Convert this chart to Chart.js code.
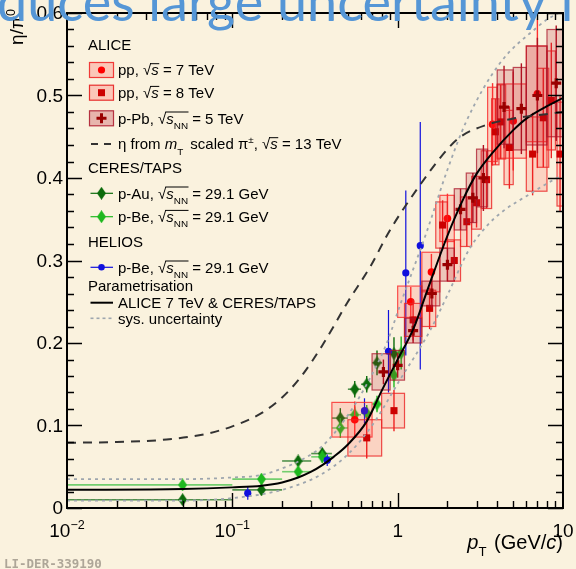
<!DOCTYPE html>
<html>
<head>
<meta charset="utf-8">
<script src="https://cdn.jsdelivr.net/npm/chart.js@4.4.1/dist/chart.umd.min.js"></script>
<style>
  html, body { margin: 0; padding: 0; background: #faf2de; }
  #wrap { position: relative; width: 576px; height: 569px; overflow: hidden; }
  canvas { display: block; }
</style>
</head>
<body>
<div id="wrap"><canvas id="c" width="576" height="569"></canvas></div>
<script>
// ---- axis ranges and tick labels ----
const X_MIN = 0.01, X_MAX = 10, Y_MIN = 0, Y_MAX = 0.6;
const yTickValues = [0, 0.1, 0.2, 0.3, 0.4, 0.5, 0.6];
const yTickLabels = ['0', '0.1', '0.2', '0.3', '0.4', '0.5', '0.6'];
const xTickValues = [0.01, 0.1, 1, 10];
const xTickBase = ['10', '10', '1', '10'];
const xTickExp = ['\u22122', '\u22121', '', ''];

// ---- ALICE pp, sqrt(s) = 7 TeV ----
const pp7X    = [0.55, 1.2, 1.6, 2.0, 3.75, 5.0, 7.0];
const pp7Y    = [0.107, 0.250, 0.286, 0.351, 0.465, 0.469, 0.502];
const pp7Stat = [0.022, 0.018, 0.022, 0.030, 0.050, 0.060, 0.090];
const pp7Sys  = [0.021, 0.019, 0.024, 0.028, 0.045, 0.045, 0.058];
const pp7Lo   = [0.4, 1.0, 1.4, 1.8, 3.5, 4.0, 6.0];
const pp7Hi   = [0.7, 1.4, 1.8, 2.2, 4.0, 6.0, 8.0];

// ---- ALICE pp, sqrt(s) = 8 TeV ----
const pp8X    = [0.65, 0.95, 1.24, 1.56, 1.87, 2.2, 2.62, 3.0, 3.45, 3.9, 4.2, 4.74, 6.55, 7.6, 8.5, 9.6];
const pp8Y    = [0.085, 0.118, 0.228, 0.242, 0.343, 0.300, 0.347, 0.370, 0.398, 0.456, 0.468, 0.437, 0.429, 0.473, 0.494, 0.429];
const pp8Stat = [0.025, 0.025, 0.025, 0.025, 0.030, 0.025, 0.030, 0.030, 0.035, 0.040, 0.045, 0.050, 0.050, 0.060, 0.070, 0.070];
const pp8Sys  = [0.022, 0.021, 0.020, 0.022, 0.028, 0.025, 0.030, 0.032, 0.035, 0.040, 0.045, 0.045, 0.045, 0.060, 0.060, 0.063];
const pp8Lo   = [0.5, 0.8, 1.1, 1.4, 1.7, 2.0, 2.4, 2.8, 3.2, 3.7, 4.0, 4.4, 6.0, 7.0, 8.0, 9.2];
const pp8Hi   = [0.8, 1.1, 1.4, 1.7, 2.0, 2.4, 2.8, 3.2, 3.7, 4.1, 4.5, 5.0, 8.0, 8.2, 9.0, 10.0];

// ---- ALICE p-Pb, sqrt(s_NN) = 5 TeV ----
const pPbX    = [0.82, 1.0, 1.24, 1.61, 2.0, 2.4, 2.85, 3.3, 4.4, 5.6, 7.0, 9.1];
const pPbY    = [0.165, 0.173, 0.215, 0.260, 0.295, 0.362, 0.376, 0.400, 0.486, 0.484, 0.500, 0.515];
const pPbStat = [0.015, 0.015, 0.015, 0.018, 0.020, 0.025, 0.030, 0.040, 0.050, 0.055, 0.070, 0.070];
const pPbSys  = [0.022, 0.018, 0.015, 0.015, 0.020, 0.025, 0.030, 0.035, 0.045, 0.050, 0.060, 0.065];
const pPbLo   = [0.7, 0.9, 1.1, 1.4, 1.8, 2.2, 2.6, 3.0, 4.0, 5.0, 6.0, 8.0];
const pPbHi   = [0.9, 1.1, 1.4, 1.8, 2.2, 2.6, 3.0, 3.5, 5.0, 6.0, 8.0, 10.0];

// ---- CERES/TAPS p-Au and p-Be, sqrt(s_NN) = 29.1 GeV ----
const pAuX   = [0.05, 0.15, 0.25, 0.35, 0.45, 0.55, 0.65, 0.75, 0.95];
const pAuY   = [0.010, 0.022, 0.057, 0.066, 0.109, 0.144, 0.150, 0.176, 0.187];
const pAuErr = [0.006, 0.006, 0.006, 0.007, 0.012, 0.010, 0.010, 0.015, 0.020];
const pAuLo  = [0.01, 0.1, 0.2, 0.3, 0.4, 0.5, 0.6, 0.7, 0.9];
const pAuHi  = [0.1, 0.2, 0.3, 0.4, 0.5, 0.6, 0.7, 0.8, 1.0];

const pBeX   = [0.05, 0.15, 0.25, 0.35, 0.45, 0.55, 0.65, 0.75, 0.95, 1.05];
const pBeY   = [0.028, 0.035, 0.044, 0.062, 0.097, 0.113, 0.115, 0.126, 0.161, 0.188];
const pBeErr = [0.006, 0.006, 0.006, 0.007, 0.012, 0.010, 0.010, 0.010, 0.015, 0.020];
const pBeLo  = [0.01, 0.1, 0.2, 0.3, 0.4, 0.5, 0.6, 0.7, 0.9, 1.0];
const pBeHi  = [0.1, 0.2, 0.3, 0.4, 0.5, 0.6, 0.7, 0.8, 1.0, 1.1];

// ---- HELIOS p-Be, sqrt(s_NN) = 29.1 GeV ----
const heliosX   = [0.124, 0.375, 0.63, 0.88, 1.12, 1.37];
const heliosY   = [0.018, 0.058, 0.118, 0.190, 0.285, 0.318];
const heliosErr = [0.008, 0.007, 0.015, 0.050, 0.100, 0.150];

// ---- parametrisation (ALICE 7 TeV & CERES/TAPS) and its uncertainty band ----
const paramX = [0.01, 0.05, 0.1, 0.15, 0.2, 0.25, 0.3, 0.35, 0.41, 0.5, 0.65, 0.8, 1.0, 1.25, 1.5, 2.0, 2.5, 3.0, 3.8, 5.0, 6.0, 8.0, 10.0];
const paramY = [0.022, 0.023, 0.025, 0.027, 0.031, 0.037, 0.044, 0.052, 0.062, 0.077, 0.105, 0.142, 0.180, 0.218, 0.262, 0.330, 0.375, 0.405, 0.432, 0.458, 0.472, 0.487, 0.497];

const sysUpX = [0.01, 0.05, 0.1, 0.15, 0.2, 0.26, 0.35, 0.49, 0.65, 0.86, 1.03, 1.5, 2.0, 2.62, 4.15, 7.0, 8.0, 10.0];
const sysUpY = [0.035, 0.035, 0.037, 0.040, 0.048, 0.058, 0.075, 0.110, 0.150, 0.200, 0.245, 0.335, 0.410, 0.470, 0.539, 0.583, 0.592, 0.603];

const sysLoX = [0.01, 0.05, 0.1, 0.2, 0.34, 0.5, 0.7, 1.03, 1.57, 2.0, 2.7, 3.5, 4.35, 6.0, 9.2, 10.0];
const sysLoY = [0.009, 0.009, 0.012, 0.022, 0.040, 0.065, 0.100, 0.155, 0.215, 0.258, 0.313, 0.343, 0.360, 0.378, 0.400, 0.403];

// ---- eta from m_T-scaled charged pions, sqrt(s) = 13 TeV ----
const mtX = [0.01, 0.02, 0.04, 0.07, 0.1, 0.15, 0.2, 0.26, 0.35, 0.5, 0.68, 0.9, 1.37, 2.0, 2.4, 3.4, 5.0, 7.6, 10.0];
const mtY = [0.079, 0.080, 0.083, 0.090, 0.099, 0.115, 0.134, 0.159, 0.197, 0.250, 0.292, 0.337, 0.392, 0.435, 0.450, 0.464, 0.472, 0.477, 0.480];

// ---- helpers ----
const FONT = '"Liberation Sans", Arial, sans-serif';
const pts = (xs, ys) => xs.map((x, i) => ({ x: x, y: ys[i] }));

function diamondImage(fill) {
  const c = document.createElement('canvas');
  c.width = 9; c.height = 13;
  const g = c.getContext('2d');
  g.fillStyle = fill;
  g.beginPath();
  g.moveTo(4.5, 0); g.lineTo(9, 6.5); g.lineTo(4.5, 13); g.lineTo(0, 6.5);
  g.closePath(); g.fill();
  return c;
}
const AU_COL = '#0b6b0b', BE_COL = '#1fb81f', HEL_COL = '#1010dd';
const diamondAu = diamondImage(AU_COL);
const diamondBe = diamondImage(BE_COL);

// rich text: normal / italic / subscript / superscript runs, optional overline (square root)
function layoutRich(ctx, parts, size) {
  let w = 0;
  const out = parts.map(p => {
    const s = (p.sub || p.sup) ? size * 0.66 : size;
    const f = (p.it ? 'italic ' : '') + s + 'px ' + FONT;
    ctx.font = f;
    const pw = ctx.measureText(p.t).width;
    const o = { p: p, f: f, x: w, w: pw, dy: p.sub ? size * 0.34 : (p.sup ? -size * 0.42 : 0) };
    w += pw + (p.gap || 0);
    return o;
  });
  return { out: out, w: w };
}
function drawRich(ctx, parts, x, y, size, color, align) {
  const L = layoutRich(ctx, parts, size);
  const x0 = align === 'right' ? x - L.w : x;
  ctx.fillStyle = color; ctx.strokeStyle = color;
  ctx.textAlign = 'left'; ctx.textBaseline = 'alphabetic';
  let a = null, b = null;
  L.out.forEach(o => {
    ctx.font = o.f;
    ctx.fillText(o.p.t, x0 + o.x, y + o.dy);
    if (o.p.ov) { if (a === null) a = x0 + o.x; b = x0 + o.x + o.w; }
  });
  if (a !== null) {
    ctx.lineWidth = 1;
    ctx.beginPath();
    ctx.moveTo(a - 1, y - size * 0.78);
    ctx.lineTo(b + 0.5, y - size * 0.78);
    ctx.stroke();
  }
  return L.w;
}

// ---- error bars, systematic boxes, frame, axes text and legend ----
const decor = {
  id: 'decor',
  beforeDraw(chart) {
    const ctx = chart.ctx;
    ctx.save();
    ctx.fillStyle = '#faf2de';
    ctx.fillRect(0, 0, chart.width, chart.height);
    ctx.restore();
  },
  beforeDatasetDraw(chart, args) {
    const ds = chart.data.datasets[args.index];
    const e = ds.errors;
    if (!e) return;
    const { ctx, chartArea: a } = chart;
    const xs = chart.scales.x, ys = chart.scales.y;
    ctx.save();
    ctx.beginPath(); ctx.rect(a.left, a.top, a.right - a.left, a.bottom - a.top); ctx.clip();
    const data = ds.data;
    if (e.sys) {
      data.forEach((p, i) => {
        const x1 = xs.getPixelForValue(e.lo[i]), x2 = xs.getPixelForValue(e.hi[i]);
        const y1 = ys.getPixelForValue(p.y + e.sys[i]), y2 = ys.getPixelForValue(p.y - e.sys[i]);
        ctx.fillStyle = e.boxFill;
        ctx.fillRect(x1, y1, x2 - x1, y2 - y1);
        ctx.strokeStyle = e.boxLine; ctx.lineWidth = 1.2;
        ctx.strokeRect(x1, y1, x2 - x1, y2 - y1);
      });
    } else if (e.lo) {
      ctx.strokeStyle = e.hColor; ctx.lineWidth = 1.6;
      data.forEach((p, i) => {
        const py = ys.getPixelForValue(p.y);
        ctx.beginPath();
        ctx.moveTo(xs.getPixelForValue(e.lo[i]), py);
        ctx.lineTo(xs.getPixelForValue(e.hi[i]), py);
        ctx.stroke();
      });
    }
    ctx.strokeStyle = e.color; ctx.lineWidth = e.width || 1.4;
    data.forEach((p, i) => {
      const px = xs.getPixelForValue(p.x);
      ctx.beginPath();
      ctx.moveTo(px, ys.getPixelForValue(p.y - e.stat[i]));
      ctx.lineTo(px, ys.getPixelForValue(p.y + e.stat[i]));
      ctx.stroke();
    });
    ctx.restore();
  },
  afterDraw(chart) {
    const { ctx, chartArea: a } = chart;
    const xs = chart.scales.x, ys = chart.scales.y;
    ctx.save();

    // frame
    ctx.strokeStyle = '#000'; ctx.lineWidth = 2;
    ctx.strokeRect(a.left, a.top, a.right - a.left, a.bottom - a.top);

    // y ticks (major every 0.1, minor every 0.02) on both sides
    ctx.lineWidth = 1.4;
    for (let k = 0; k <= 30; k++) {
      const py = Math.round(ys.getPixelForValue(k * 0.02)) + 0.5;
      const len = (k % 5 === 0) ? 15 : 7;
      ctx.beginPath();
      ctx.moveTo(a.left, py); ctx.lineTo(a.left + len, py);
      ctx.moveTo(a.right, py); ctx.lineTo(a.right - len, py);
      ctx.stroke();
    }
    // x ticks (decades and 2..9 subdivisions) on top and bottom
    for (let d = 0.01; d < 5; d *= 10) {
      for (let m = 1; m <= 9; m++) {
        const v = m * d;
        if (v <= X_MIN * 1.0001 || v >= X_MAX * 0.9999) continue;
        const px = Math.round(xs.getPixelForValue(v)) + 0.5;
        const len = (m === 1) ? 15 : 7;
        ctx.beginPath();
        ctx.moveTo(px, a.bottom); ctx.lineTo(px, a.bottom - len);
        ctx.moveTo(px, a.top); ctx.lineTo(px, a.top + len);
        ctx.stroke();
      }
    }

    // y tick labels
    ctx.fillStyle = '#000';
    ctx.font = '19px ' + FONT;
    ctx.textAlign = 'right'; ctx.textBaseline = 'middle';
    yTickValues.forEach((v, i) => ctx.fillText(yTickLabels[i], a.left - 4, ys.getPixelForValue(v) + 1));

    // x tick labels with exponents
    xTickValues.forEach((v, i) => {
      const parts = [{ t: xTickBase[i] }];
      if (xTickExp[i]) parts.push({ t: xTickExp[i], sup: true });
      const L = layoutRich(ctx, parts, 19);
      drawRich(ctx, parts, xs.getPixelForValue(v) - L.w / 2, 537, 19, '#000');
    });

    // axis titles
    drawRich(ctx, [{ t: 'p', it: true }, { t: 'T', sub: true, gap: 2 }, { t: ' (GeV/' }, { t: 'c', it: true }, { t: ')' }],
      a.right, 549, 20, '#000', 'right');
    ctx.save();
    ctx.translate(23, 9);
    ctx.rotate(-Math.PI / 2);
    drawRich(ctx, [{ t: '\u03B7/\u03C0' }, { t: '0', sup: true }], 0, 0, 19, '#000', 'right');
    ctx.restore();

    // legend
    const LX = 88, TX = 118, FS = 15;
    const sqrtS = [{ t: '\u221A' }, { t: 's', it: true, ov: true }];
    const sqrtSNN = [{ t: '\u221A' }, { t: 's', it: true, ov: true }, { t: 'NN', sub: true, ov: true }];
    const head = (s, cy) => drawRich(ctx, [{ t: s }], LX, cy + 5.4, FS, '#000');
    const entry = (parts, cy) => drawRich(ctx, parts, TX, cy + 5.4, FS, '#000');
    const boxSym = (cy, fill, line) => {
      ctx.fillStyle = fill; ctx.fillRect(89.5, cy - 7.5, 24, 15);
      ctx.strokeStyle = line; ctx.lineWidth = 1.2; ctx.strokeRect(89.5, cy - 7.5, 24, 15);
    };

    head('ALICE', 45);
    boxSym(70, 'rgba(255,70,70,0.25)', 'rgba(240,40,40,0.9)');
    ctx.fillStyle = '#ff0000'; ctx.beginPath(); ctx.arc(101.5, 70, 3.6, 0, 2 * Math.PI); ctx.fill();
    entry([{ t: 'pp, ' }, ...sqrtS, { t: ' = 7 TeV' }], 70);

    boxSym(92.7, 'rgba(255,70,70,0.25)', 'rgba(230,30,30,0.9)');
    ctx.fillStyle = '#cc0000'; ctx.fillRect(98, 89.2, 7, 7);
    entry([{ t: 'pp, ' }, ...sqrtS, { t: ' = 8 TeV' }], 92.7);

    boxSym(118.3, 'rgba(190,40,60,0.3)', 'rgba(170,20,40,0.85)');
    ctx.strokeStyle = '#990000'; ctx.lineWidth = 3;
    ctx.beginPath(); ctx.moveTo(96.5, 118.3); ctx.lineTo(106.5, 118.3); ctx.moveTo(101.5, 113.3); ctx.lineTo(101.5, 123.3); ctx.stroke();
    entry([{ t: 'p-Pb, ' }, ...sqrtSNN, { t: ' = 5 TeV' }], 118.3);

    ctx.strokeStyle = '#333'; ctx.lineWidth = 1.8;
    ctx.beginPath(); ctx.moveTo(91, 144); ctx.lineTo(98, 144); ctx.moveTo(104, 144); ctx.lineTo(111, 144); ctx.stroke();
    entry([{ t: '\u03B7 from ' }, { t: 'm', it: true }, { t: 'T', sub: true, gap: 3 }, { t: ' scaled \u03C0' }, { t: '\u00B1', sup: true },
      { t: ', ' }, ...sqrtS, { t: ' = 13 TeV' }], 144);

    head('CERES/TAPS', 167.3);
    const lineSym = (cy, col, img) => {
      ctx.strokeStyle = col; ctx.lineWidth = 1.2;
      ctx.beginPath(); ctx.moveTo(90.5, cy); ctx.lineTo(113, cy); ctx.stroke();
      if (img) ctx.drawImage(img, 101.5 - img.width / 2, cy - img.height / 2);
    };
    lineSym(193.3, AU_COL, diamondAu);
    entry([{ t: 'p-Au, ' }, ...sqrtSNN, { t: ' = 29.1 GeV' }], 193.3);
    lineSym(216.7, BE_COL, diamondBe);
    entry([{ t: 'p-Be, ' }, ...sqrtSNN, { t: ' = 29.1 GeV' }], 216.7);

    head('HELIOS', 241.7);
    lineSym(267.3, HEL_COL, null);
    ctx.fillStyle = HEL_COL; ctx.beginPath(); ctx.arc(101.5, 267.3, 3.3, 0, 2 * Math.PI); ctx.fill();
    entry([{ t: 'p-Be, ' }, ...sqrtSNN, { t: ' = 29.1 GeV' }], 267.3);

    head('Parametrisation', 286);
    ctx.strokeStyle = '#000'; ctx.lineWidth = 2;
    ctx.beginPath(); ctx.moveTo(90.5, 302.7); ctx.lineTo(113, 302.7); ctx.stroke();
    entry([{ t: 'ALICE 7 TeV & CERES/TAPS' }], 302.7);
    ctx.strokeStyle = '#9ea6ae'; ctx.lineWidth = 1.6; ctx.setLineDash([3, 3]);
    ctx.beginPath(); ctx.moveTo(90.5, 318.3); ctx.lineTo(113, 318.3); ctx.stroke();
    ctx.setLineDash([]);
    entry([{ t: 'sys. uncertainty' }], 318.3);

    // preliminary figure tag
    ctx.font = 'bold 12.5px "DejaVu Sans Mono", monospace';
    ctx.fillStyle = '#aea698'; ctx.textAlign = 'left'; ctx.textBaseline = 'alphabetic';
    ctx.fillText('LI-DER-339190', 4, 568);

    // slide heading running across the top
    ctx.font = '54px Lato, "Open Sans", sans-serif';
    ctx.fillStyle = '#5596d6';
    ctx.fillText('duces large uncertainty i', -3, 21);

    ctx.restore();
  }
};

const curve = (data, color, width, dash) => ({
  type: 'scatter', data: data, showLine: true, pointRadius: 0, borderColor: color, borderWidth: width,
  borderDash: dash, cubicInterpolationMode: 'monotone', fill: false, order: 0
});

new Chart(document.getElementById('c'), {
  type: 'scatter',
  data: {
    datasets: [
      curve(pts(sysUpX, sysUpY), '#9ea6ae', 1.8, [3, 4]),
      curve(pts(sysLoX, sysLoY), '#9ea6ae', 1.8, [3, 4]),
      curve(pts(mtX, mtY), '#333333', 2, [9, 7]),
      curve(pts(paramX, paramY), '#000000', 2, []),
      {
        label: 'p-Pb 5 TeV', data: pts(pPbX, pPbY), order: 1,
        pointStyle: 'cross', pointRadius: 5, pointBorderWidth: 3.2, borderColor: '#990000', backgroundColor: '#990000',
        errors: { stat: pPbStat, sys: pPbSys, lo: pPbLo, hi: pPbHi, color: '#b01020', boxFill: 'rgba(180,25,45,0.2)', boxLine: 'rgba(170,20,40,0.75)' }
      },
      {
        label: 'pp 8 TeV', data: pts(pp8X, pp8Y), order: 2,
        pointStyle: 'rect', pointRadius: 5, pointBorderWidth: 0, backgroundColor: '#cc0000', borderColor: '#cc0000',
        errors: { stat: pp8Stat, sys: pp8Sys, lo: pp8Lo, hi: pp8Hi, color: '#ee2222', boxFill: 'rgba(255,60,60,0.17)', boxLine: 'rgba(235,35,35,0.8)' }
      },
      {
        label: 'pp 7 TeV', data: pts(pp7X, pp7Y), order: 3,
        pointStyle: 'circle', pointRadius: 3.8, pointBorderWidth: 0, backgroundColor: '#ff0000', borderColor: '#ff0000',
        errors: { stat: pp7Stat, sys: pp7Sys, lo: pp7Lo, hi: pp7Hi, color: '#ff3030', boxFill: 'rgba(255,60,60,0.17)', boxLine: 'rgba(250,40,40,0.8)' }
      },
      {
        label: 'HELIOS p-Be', data: pts(heliosX, heliosY), order: 4,
        pointStyle: 'circle', pointRadius: 3.6, pointBorderWidth: 0, backgroundColor: HEL_COL, borderColor: HEL_COL,
        errors: { stat: heliosErr, color: HEL_COL, width: 1.2 }
      },
      {
        label: 'CERES/TAPS p-Be', data: pts(pBeX, pBeY), order: 5,
        pointStyle: diamondBe, pointRadius: 6,
        errors: { stat: pBeErr, lo: pBeLo, hi: pBeHi, color: BE_COL, hColor: 'rgba(90,200,90,0.85)' }
      },
      {
        label: 'CERES/TAPS p-Au', data: pts(pAuX, pAuY), order: 6,
        pointStyle: diamondAu, pointRadius: 6,
        errors: { stat: pAuErr, lo: pAuLo, hi: pAuHi, color: AU_COL, hColor: 'rgba(40,120,40,0.8)' }
      }
    ]
  },
  options: {
    responsive: false, animation: false, devicePixelRatio: 1,
    layout: { padding: { left: 67, top: 13, right: 13, bottom: 61 } },
    scales: {
      x: { type: 'logarithmic', min: X_MIN, max: X_MAX, display: false },
      y: { type: 'linear', min: Y_MIN, max: Y_MAX, display: false }
    },
    plugins: { legend: { display: false }, tooltip: { enabled: false } }
  },
  plugins: [decor]
});
</script>
</body>
</html>
